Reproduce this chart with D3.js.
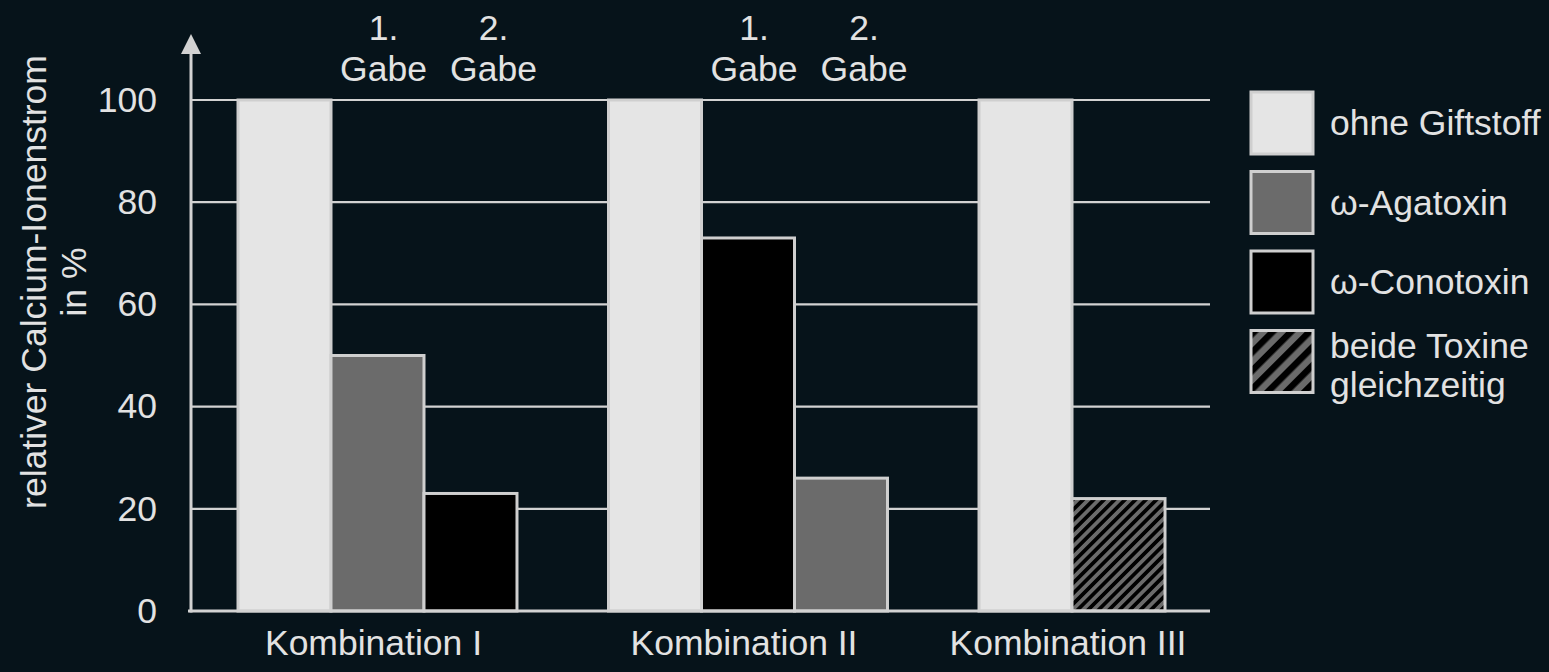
<!DOCTYPE html>
<html>
<head>
<meta charset="utf-8">
<script src="https://cdn.jsdelivr.net/npm/d3@7"></script>
<style>
  html, body { margin: 0; padding: 0; background: #06131a; }
  svg { display: block; }
  text { font-family: "Liberation Sans", Arial, sans-serif; fill: #e2e2e2; }
</style>
</head>
<body>
<div id="chart"></div>
<script>
// categories and values
const groups = ["Kombination I", "Kombination II", "Kombination III"];
const groupKinds = [
    ["ohne", "aga", "cono"],
    ["ohne", "cono", "aga"],
    ["ohne", "beide"]
];
const groupValues = [
    [100, 50, 23],
    [100, 73, 26],
    [100, 22]
];
const doseLabels = ["1.", "2."]; // over bar 2 and 3 of the first two groups
const doseWord = "Gabe";
const yTicks = [0, 20, 40, 60, 80, 100];
const legendKeys = ["ohne", "aga", "cono", "beide"];
const legendLabels = [["ohne Giftstoff"], ["\u03c9-Agatoxin"], ["\u03c9-Conotoxin"], ["beide Toxine", "gleichzeitig"]];
const yTitle = ["relativer Calcium-Ionenstrom", "in %"];

const width = 1549, height = 672;
const fills = { ohne: "#e5e5e5", aga: "#6b6b6b", cono: "#000000", beide: "url(#hatch)" };
const legendFills = { ohne: "#e5e5e5", aga: "#6b6b6b", cono: "#000000", beide: "url(#hatchBig)" };
const lineColor = "#d2d2d2";
const fontSize = 35.5;

const svg = d3.select("#chart").append("svg")
    .attr("width", width)
    .attr("height", height);

svg.append("rect").attr("width", width).attr("height", height).attr("fill", "#06131a");

// hatch patterns
const defs = svg.append("defs");
function hatch(id, size) {
    const p = defs.append("pattern")
        .attr("id", id)
        .attr("patternUnits", "userSpaceOnUse")
        .attr("width", size)
        .attr("height", size)
        .attr("patternTransform", "rotate(45)");
    p.append("rect").attr("width", size).attr("height", size).attr("fill", "#6b6b6b");
    p.append("rect").attr("width", size / 2).attr("height", size).attr("fill", "#000");
}
hatch("hatch", 7.4);
hatch("hatchBig", 13);

// scales
const y = d3.scaleLinear().domain([0, 100]).range([611, 100]);
const x0 = d3.scaleBand().domain(groups).range([238, 1258]).paddingInner(0.247).paddingOuter(0);
const x1 = d3.scaleBand().domain([0, 1, 2]).range([0, x0.bandwidth()]).padding(0);

const axisX = 191, axisRight = 1210;

// gridlines
svg.append("g")
    .selectAll("line")
    .data(yTicks.filter(d => d > 0))
    .join("line")
    .attr("x1", axisX).attr("x2", axisRight)
    .attr("y1", d => y(d)).attr("y2", d => y(d))
    .attr("stroke", lineColor)
    .attr("stroke-width", 2.2);

// y tick labels
const yAxis = svg.append("g")
    .attr("transform", `translate(${axisX},0)`)
    .call(d3.axisLeft(y).tickValues(yTicks).tickSize(0).tickPadding(34));
yAxis.select(".domain").remove();
yAxis.selectAll("text")
    .attr("font-size", fontSize)
    .attr("font-family", null)
    .attr("fill", "#e2e2e2");

// bars
const bars = groups.flatMap((g, gi) => groupValues[gi].map((v, i) => ({
    group: g, slot: i, value: v, kind: groupKinds[gi][i]
})));

svg.append("g")
    .selectAll("rect")
    .data(bars)
    .join("rect")
    .attr("x", d => x0(d.group) + x1(d.slot))
    .attr("y", d => y(d.value))
    .attr("width", x1.bandwidth())
    .attr("height", d => y(0) - y(d.value))
    .attr("fill", d => fills[d.kind])
    .attr("stroke", "#cfcfcf")
    .attr("stroke-width", 3);

// axis lines
svg.append("line")
    .attr("x1", axisX - 3).attr("x2", axisRight)
    .attr("y1", y(0)).attr("y2", y(0))
    .attr("stroke", lineColor).attr("stroke-width", 3);
svg.append("line")
    .attr("x1", axisX).attr("x2", axisX)
    .attr("y1", y(0) + 1.5).attr("y2", 50)
    .attr("stroke", lineColor).attr("stroke-width", 3);
svg.append("path")
    .attr("d", `M${axisX},34 L${axisX + 10},54 L${axisX - 10},54 Z`)
    .attr("fill", lineColor);

// category labels
svg.append("g")
    .selectAll("text")
    .data(groups)
    .join("text")
    .attr("x", (d, i) => x0(d) + x1.bandwidth() * groupValues[i].length / 2 - 4)
    .attr("y", 655)
    .attr("text-anchor", "middle")
    .attr("font-size", fontSize)
    .text(d => d);

// dose labels over first two groups
const doses = groups.slice(0, 2).flatMap(g => doseLabels.map((lab, i) => ({ group: g, slot: i + 1, lab })));
const doseG = svg.append("g")
    .selectAll("g")
    .data(doses)
    .join("g")
    .attr("transform", d => `translate(${x0(d.group) + x1(d.slot) + x1.bandwidth() / 2 + (d.slot === 1 ? 6 : 23)},0)`);
doseG.append("text")
    .attr("y", 40)
    .attr("text-anchor", "middle")
    .attr("font-size", fontSize)
    .text(d => d.lab);
doseG.append("text")
    .attr("y", 81)
    .attr("text-anchor", "middle")
    .attr("font-size", fontSize)
    .text(doseWord);

// y title
const title = svg.append("text")
    .attr("transform", "translate(0,282) rotate(-90)")
    .attr("text-anchor", "middle")
    .attr("font-size", fontSize);
title.selectAll("tspan")
    .data(yTitle)
    .join("tspan")
    .attr("x", 0)
    .attr("y", (d, i) => 46 + i * 40)
    .text(d => d);

// legend
const legend = svg.append("g")
    .selectAll("g")
    .data(legendKeys)
    .join("g")
    .attr("transform", (d, i) => `translate(1251,${92 + i * 79.5})`);
legend.append("rect")
    .attr("width", 62)
    .attr("height", 62)
    .attr("fill", d => legendFills[d])
    .attr("stroke", "#cfcfcf")
    .attr("stroke-width", 3);
legend.append("text")
    .attr("font-size", fontSize)
    .selectAll("tspan")
    .data((d, i) => legendLabels[i])
    .join("tspan")
    .attr("x", 79)
    .attr("y", (d, i, n) => n.length > 1 ? 27 + i * 39 : 43)
    .text(d => d);
</script>
</body>
</html>
